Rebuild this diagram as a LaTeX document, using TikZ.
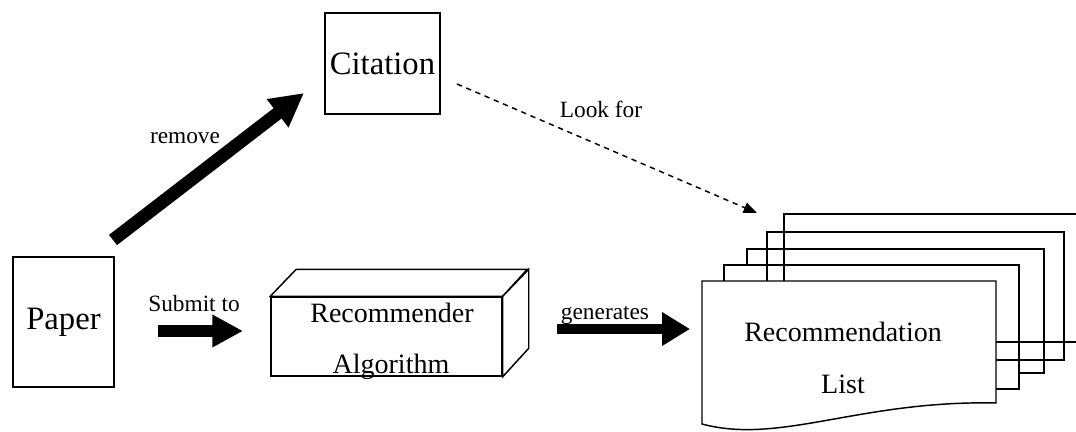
\documentclass[tikz,border=0pt]{standalone}
\usepackage{fontspec}
\setmainfont{Liberation Serif}
\newfontfamily\tmsfont{Liberation Serif}
\usetikzlibrary{arrows.meta,calc}
\newcommand\listpage[4]{(#1,#2) -- (#3,#2) -- (#3,#4) .. controls (#1+158,#4-3) and (#1+78,#4+42) .. (#1,#4+21) -- cycle}
\begin{document}
\begin{tikzpicture}[x=0.75pt,y=-0.75pt,
  box/.style={draw, line width=1.1pt, fill=white, inner sep=0pt},
  pg/.style={draw, line width=1.1pt, line join=miter},
  lbl/.style={font=\tmsfont\fontsize{17.5pt}{20pt}\selectfont, anchor=base, inner sep=0pt},
  big/.style={font=\tmsfont\fontsize{21pt}{24pt}\selectfont, anchor=base, inner sep=0pt},
  hugetext/.style={font=\tmsfont\fontsize{24.5pt}{28pt}\selectfont},
  fatarrow/.style={line width=9pt, -{Triangle[length=23pt, width=23pt]}},
  dasharrow/.style={line width=1.1pt, dash pattern=on 4pt off 3.5pt, -{Triangle[length=10pt, width=8pt]}}
]
\path[use as bounding box, clip] (0,0) rectangle (1076,432);
\fill[white] (0,0) rectangle (1076,432);

% boxes
\node[box, hugetext, minimum width=75.75pt, minimum height=97.5pt] (paper) at (63.5,322) {\raisebox{2pt}{Paper}};
\node[box, hugetext, minimum width=86.25pt, minimum height=75.75pt] (cit) at (382.5,63.5) {Citation};

% 3D box
\node[box, minimum width=173.25pt, minimum height=59.25pt] (alg) at (386.5,336.5) {};
\draw[pg, fill=white] (alg.north west) -- ++(26,-27) -- ++(231,0) -- (alg.north east) -- cycle;
\draw[pg, fill=white] (alg.north east) -- ++(26,-27) -- ++(0,79) -- (alg.south east) -- cycle;
\node[big] (algA) at (392,322) {Recommender};
\node[big] (algB) at (391,373) {Algorithm};

% stacked pages (back ones drawn as plain sheets, their lower left is hidden)
\draw[pg, fill=white] (747,249) rectangle (1044,373);
\draw[pg, fill=white] (724,265) rectangle (1019,389);
\draw[pg] (767,232) rectangle (1064,360);
\draw[pg] (784,214) rectangle (1090,342);
\draw[pg, fill=white] \listpage{702}{281}{996}{403};
\node[big] (rlA) at (843,341) {Recommendation};
\node[big] (rlB) at (843,393) {List};

% connector ends
\coordinate (rmA) at (113,240);
\coordinate (rmB) at (304,93);
\coordinate (sbA) at (158,331);
\coordinate (sbB) at (243,331);
\coordinate (gnA) at (557,329);
\coordinate (gnB) at (690,329);
\coordinate (lkA) at (457,84);
\coordinate (lkB) at (757,213);

% connectors
\draw[fatarrow, line width=9.75pt, -{Triangle[length=25pt, width=25pt]}] (rmA) -- (rmB);
\draw[fatarrow] (sbA) -- (sbB);
\draw[fatarrow, line width=7.5pt, -{Triangle[length=21pt, width=24pt]}] (gnA) -- (gnB);
\draw[dasharrow] (lkA) -- (lkB);

% labels
\node[lbl] (rem) at (185,143) {remove};
\node[lbl] (submit) at (194,311) {Submit to};
\node[lbl] (gen) at (605,319) {generates};
\node[lbl] (look) at (601,117) {Look for};
\end{tikzpicture}
\end{document}
